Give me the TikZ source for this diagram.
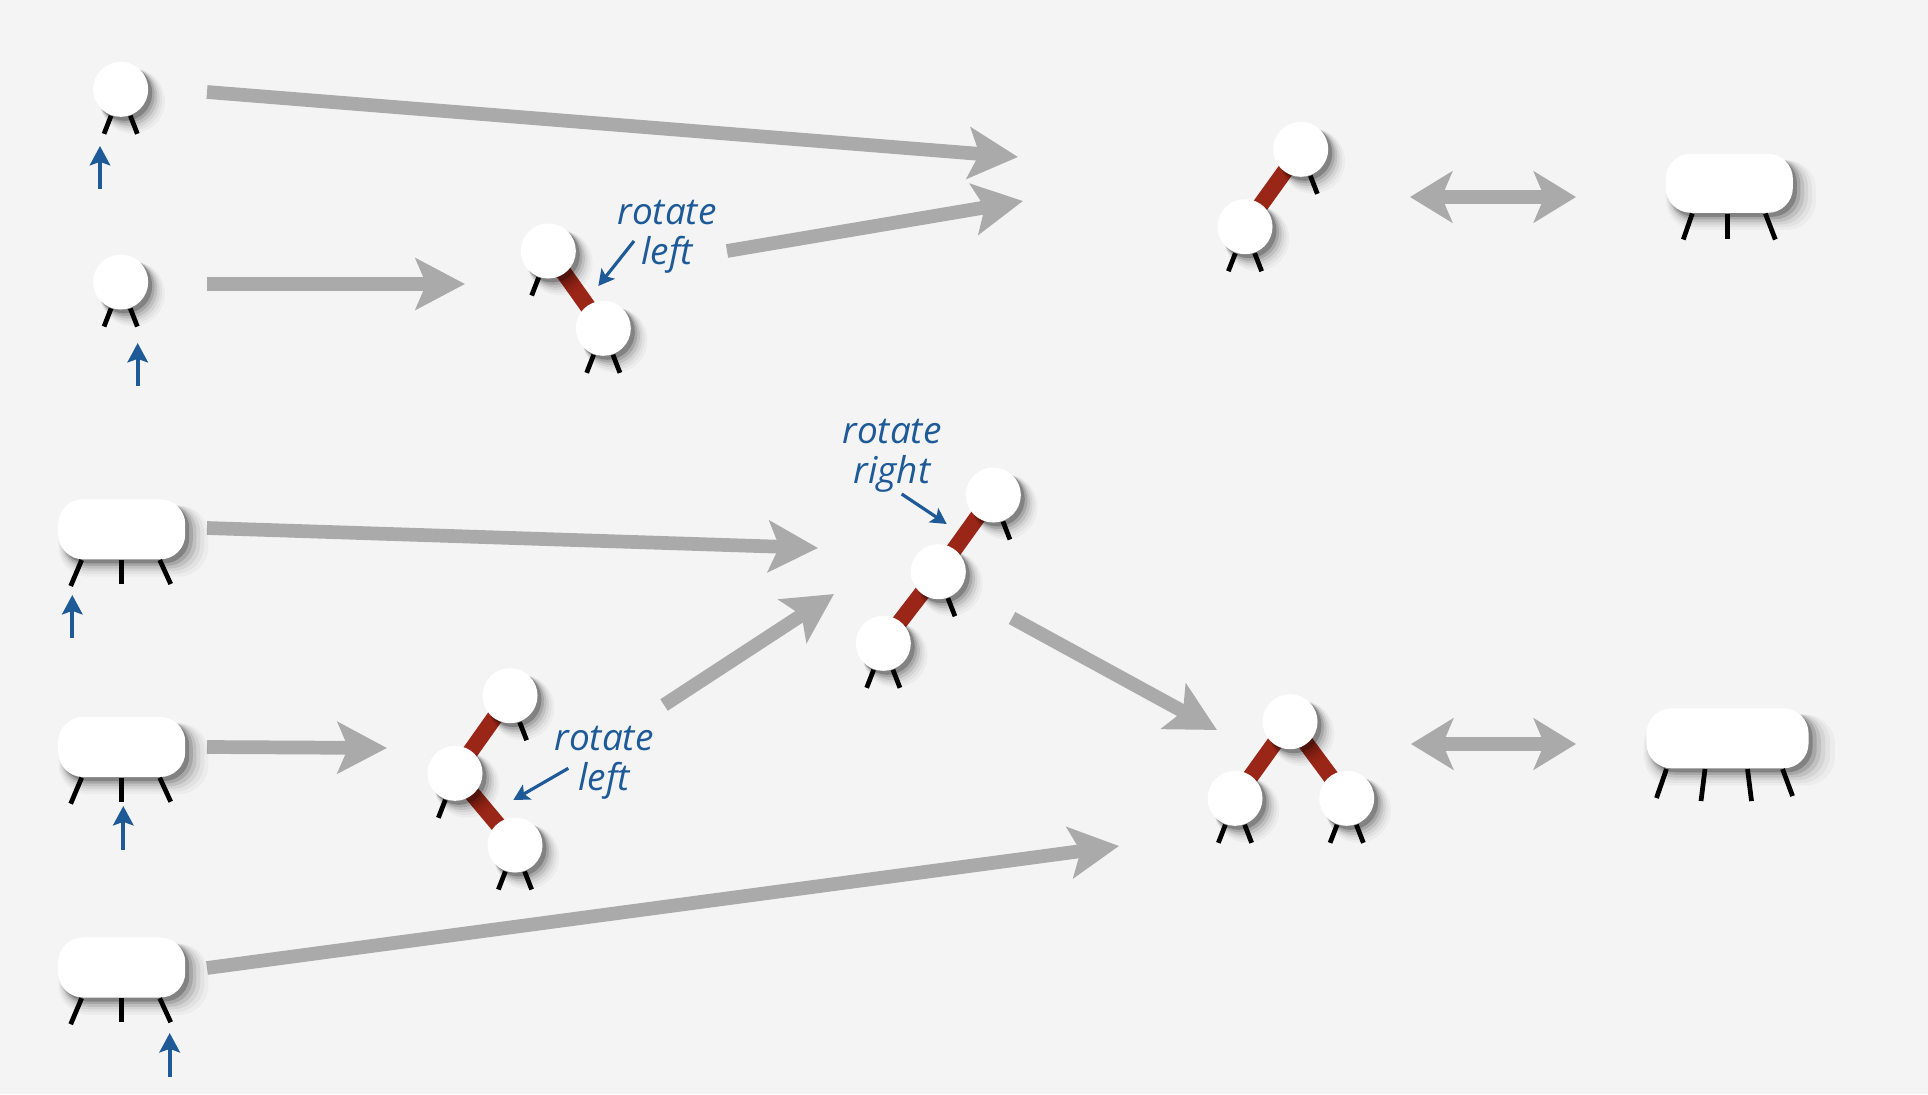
\documentclass[tikz,border=0pt]{standalone}
\usepackage{fontspec}
\setmainfont{Open Sans}
\usetikzlibrary{arrows.meta,shadows}

\definecolor{bgc}{HTML}{F4F4F4}
\definecolor{arrowgray}{HTML}{AAAAAA}
\definecolor{linkred}{HTML}{9A2617}
\definecolor{noteblue}{HTML}{1D5A97}

\tikzset{
  soft shadow/.style={
    general shadow={fill=black, opacity=.03, shadow scale=1.18, shadow xshift=.1cm, shadow yshift=-.1cm},
    general shadow={fill=black, opacity=.04, shadow scale=1.14, shadow xshift=.09cm, shadow yshift=-.09cm},
    general shadow={fill=black, opacity=.06, shadow scale=1.10, shadow xshift=.08cm, shadow yshift=-.08cm},
    general shadow={fill=black, opacity=.09, shadow scale=1.06, shadow xshift=.07cm, shadow yshift=-.07cm},
    general shadow={fill=black, opacity=.13, shadow scale=1.03, shadow xshift=.055cm, shadow yshift=-.055cm},
    general shadow={fill=black, opacity=.22, shadow scale=1.0, shadow xshift=.04cm, shadow yshift=-.04cm}},
  keynode/.style={circle, fill=white, minimum size=.55cm, inner sep=0pt, soft shadow},
  pill/.style={rectangle, rounded corners=.25cm, fill=white, minimum height=.6cm, inner sep=0pt, soft shadow},
  leg/.style={line width=1.35pt, black},
  redlink/.style={line width=4.6pt, linkred},
  graystep/.style={line width=3.9pt, arrowgray, -{Stealth[length=14pt,width=14.5pt,inset=3pt]}},
  twoway/.style={line width=3.9pt, arrowgray, {Stealth[length=12pt,width=14.5pt,inset=3pt]}-{Stealth[length=12pt,width=14.5pt,inset=3pt]}},
  ptr/.style={line width=1.1pt, noteblue, -{Stealth[length=5.5pt,width=5.8pt,inset=1pt]}},
  notearrow/.style={line width=.9pt, noteblue, -{Stealth[length=4.5pt,width=4.8pt,inset=1pt]}},
  rotnote/.style={text=noteblue, font=\itshape\fontsize{10.5}{11.3}\selectfont, align=center, inner sep=0pt}
}

\begin{document}
\begin{tikzpicture}[x=0.01cm,y=-0.01cm]
\fill[bgc] (0,0) rectangle (1928,1094);

\coordinate (g1s) at (207,92);
\coordinate (g1e) at (1018,157);
\coordinate (g2s) at (207,284);
\coordinate (g2e) at (465,284);
\coordinate (g3s) at (727,251);
\coordinate (g3e) at (1023,201);
\coordinate (g4s) at (207,528);
\coordinate (g4e) at (818,548);
\coordinate (g5s) at (207,747);
\coordinate (g5e) at (387,748);
\coordinate (g6s) at (664,705);
\coordinate (g6e) at (834,594);
\coordinate (g7s) at (1012,618);
\coordinate (g7e) at (1217,730);
\coordinate (g8s) at (207,968);
\coordinate (g8e) at (1119,846);
\coordinate (d1s) at (1410,197);
\coordinate (d1e) at (1576,197);
\coordinate (d2s) at (1411,744);
\coordinate (d2e) at (1576,744);

\draw[graystep] (g1s) -- (g1e);
\draw[graystep] (g2s) -- (g2e);
\draw[graystep] (g3s) -- (g3e);
\draw[graystep] (g4s) -- (g4e);
\draw[graystep] (g5s) -- (g5e);
\draw[graystep] (g6s) -- (g6e);
\draw[graystep] (g7s) -- (g7e);
\draw[graystep] (g8s) -- (g8e);
\draw[twoway] (d1s) -- (d1e);
\draw[twoway] (d2s) -- (d2e);

\coordinate (b1) at (548.3,251);
\coordinate (b2) at (603.3,328.3);
\coordinate (c1) at (1300.7,149.3);
\coordinate (c2) at (1245,226.7);
\coordinate (d1) at (510,695.7);
\coordinate (d2) at (455,773.3);
\coordinate (d3) at (515,845);
\coordinate (e1) at (993.3,495);
\coordinate (e2) at (938.3,571.7);
\coordinate (e3) at (883.3,643.3);
\coordinate (f1) at (1290,721.7);
\coordinate (f2) at (1235,798.3);
\coordinate (f3) at (1346.7,798.3);

\draw[redlink] (b1) -- (b2);
\draw[redlink] (c1) -- (c2);
\draw[redlink] (d1) -- (d2) -- (d3);
\draw[redlink] (e1) -- (e2) -- (e3);
\draw[redlink] (f2) -- (f1) -- (f3);

\node[keynode] (A1) at (120.7,89.3) {};
\node[keynode] (A2) at (120.7,282) {};
\node[keynode] (B1) at (b1) {};
\node[keynode] (B2) at (b2) {};
\node[keynode] (C1) at (c1) {};
\node[keynode] (C2) at (c2) {};
\node[keynode] (D1) at (d1) {};
\node[keynode] (D2) at (d2) {};
\node[keynode] (D3) at (d3) {};
\node[keynode] (E1) at (e1) {};
\node[keynode] (E2) at (e2) {};
\node[keynode] (E3) at (e3) {};
\node[keynode] (F1) at (f1) {};
\node[keynode] (F2) at (f2) {};
\node[keynode] (F3) at (f3) {};
\node[pill, minimum width=1.27cm] (P1) at (121.7,529.3) {};
\node[pill, minimum width=1.27cm] (P2) at (121.7,747) {};
\node[pill, minimum width=1.27cm] (P3) at (121.7,967.5) {};
\node[pill, minimum width=1.27cm, minimum height=.59cm] (Q1) at (1729.3,183.3) {};
\node[pill, minimum width=1.62cm] (Q2) at (1727.5,738.3) {};

\draw[leg] (A1.250) -- ++(-7,18);
\draw[leg] (A1.290) -- ++(7,18);
\draw[leg] (A2.250) -- ++(-7,18);
\draw[leg] (A2.290) -- ++(7,18);
\draw[leg] (B1.250) -- ++(-7,18);
\draw[leg] (B2.250) -- ++(-7,18);
\draw[leg] (B2.290) -- ++(7,18);
\draw[leg] (C1.290) -- ++(7,18);
\draw[leg] (C2.250) -- ++(-7,18);
\draw[leg] (C2.290) -- ++(7,18);
\draw[leg] (D1.290) -- ++(7,18);
\draw[leg] (D2.250) -- ++(-7,18);
\draw[leg] (D3.250) -- ++(-7,18);
\draw[leg] (D3.290) -- ++(7,18);
\draw[leg] (E1.290) -- ++(7,18);
\draw[leg] (E2.290) -- ++(7,18);
\draw[leg] (E3.250) -- ++(-7,18);
\draw[leg] (E3.290) -- ++(7,18);
\draw[leg] (F2.250) -- ++(-7,18);
\draw[leg] (F2.290) -- ++(7,18);
\draw[leg] (F3.250) -- ++(-7,18);
\draw[leg] (F3.290) -- ++(7,18);

\draw[leg] ([xshift=-.40cm]P1.south) -- ++(-11,26);
\draw[leg] (P1.south) -- ++(0,24);
\draw[leg] ([xshift=.38cm]P1.south) -- ++(11,24);
\draw[leg] ([xshift=-.40cm]P2.south) -- ++(-11,26);
\draw[leg] (P2.south) -- ++(0,24);
\draw[leg] ([xshift=.38cm]P2.south) -- ++(11,24);
\draw[leg] ([xshift=-.40cm]P3.south) -- ++(-11,26);
\draw[leg] (P3.south) -- ++(0,24);
\draw[leg] ([xshift=.38cm]P3.south) -- ++(11,24);
\draw[leg] ([xshift=-.37cm]Q1.south) -- ++(-9,26);
\draw[leg] ([xshift=-.02cm]Q1.south) -- ++(0,25);
\draw[leg] ([xshift=.36cm]Q1.south) -- ++(10,26);
\draw[leg] ([xshift=-.61cm]Q2.south) -- ++(-10,29);
\draw[leg] ([xshift=-.225cm]Q2.south) -- ++(-4,32);
\draw[leg] ([xshift=.20cm]Q2.south) -- ++(4,32);
\draw[leg] ([xshift=.55cm]Q2.south) -- ++(10,27);

\coordinate (pa1) at (100,189);
\coordinate (pa2) at (137.7,386);
\coordinate (pp1) at (72.3,638);
\coordinate (pp2) at (123.3,850);
\coordinate (pp3) at (169.7,1077);
\draw[ptr] (pa1) -- ++(0,-43);
\draw[ptr] (pa2) -- ++(0,-43);
\draw[ptr] (pp1) -- ++(0,-43);
\draw[ptr] (pp2) -- ++(0,-44);
\draw[ptr] (pp3) -- ++(0,-44);

\node[rotnote] (rl1) at (667,237) {rotate\\left};
\node[rotnote] (rr1) at (892,456) {rotate\\right};
\node[rotnote] (rl2) at (604,763) {rotate\\left};
\coordinate (n1s) at (634,241);
\coordinate (n1e) at (598.3,286);
\coordinate (n2s) at (901.7,494);
\coordinate (n2e) at (946.7,524);
\coordinate (n3s) at (568.3,768.3);
\coordinate (n3e) at (513.3,800);
\draw[notearrow] (n1s) -- (n1e);
\draw[notearrow] (n2s) -- (n2e);
\draw[notearrow] (n3s) -- (n3e);
\end{tikzpicture}
\end{document}
